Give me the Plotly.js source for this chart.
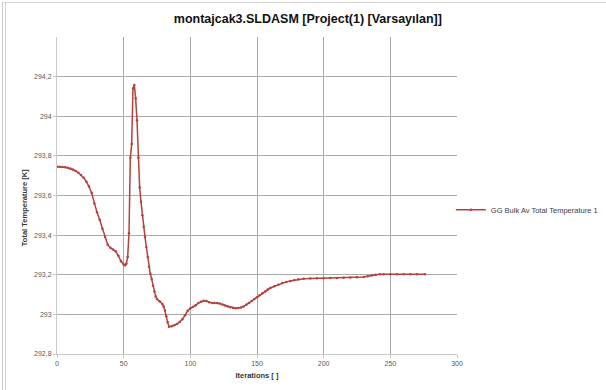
<!DOCTYPE html>
<html>
<head>
<meta charset="utf-8">
<script src="https://cdn.plot.ly/plotly-3.0.1.min.js"></script>
<style>
  html, body { margin: 0; padding: 0; background: #fff; overflow: hidden; }
  #chart { width: 606px; height: 390px; position: absolute; left: 0; top: 0; }
  #frame1 { position: absolute; left: 2px; top: 2px; width: 700px; height: 500px;
            border-left: 1px solid #c9c9c9; border-top: 1px solid #d0d0d0; pointer-events: none; }
  #frame2 { position: absolute; left: 5px; top: 3px; width: 1px; height: 500px;
            background: #d6d6d6; pointer-events: none; }
</style>
</head>
<body>
<div id="chart"></div>
<div id="frame1"></div>
<div id="frame2"></div>
<script>
const chartTitle = "montajcak3.SLDASM [Project(1) [Varsayılan]]";
const seriesName = "GG Bulk Av Total Temperature 1";
const xTitle = "Iterations [ ]";
const yTitle = "Total Temperature [K]";

const iterations = [
  0, 2, 4, 6, 8, 10, 12, 14, 16, 18, 20, 22, 24, 26, 28, 30, 32, 34, 36, 38,
  40, 42, 44, 46, 48, 50, 51, 52, 53, 54, 55, 56, 57, 58, 59, 60, 61, 62, 63, 64,
  65, 66, 67, 68, 69, 70, 71, 72, 73, 74, 75, 77, 79, 80, 81, 82, 83, 84, 86, 88,
  90, 92, 94, 96, 98, 100, 102, 104, 106, 108, 110, 112, 114, 116, 118, 120, 122, 124, 126, 128,
  130, 132, 134, 136, 138, 140, 142, 144, 146, 148, 150, 152, 154, 156, 158, 160, 163, 166, 169, 172,
  175, 178, 181, 185, 190, 195, 200, 205, 210, 215, 220, 225, 230, 233, 236, 239, 242, 245, 250, 255,
  260, 265, 270, 276
];
const temperature = [
  293.745, 293.745, 293.744, 293.742, 293.740, 293.736, 293.731, 293.724, 293.715, 293.703,
  293.690, 293.670, 293.645, 293.612, 293.560, 293.515, 293.478, 293.432, 293.390, 293.352,
  293.336, 293.328, 293.318, 293.296, 293.268, 293.252, 293.248, 293.255, 293.290, 293.410,
  293.790, 293.860, 294.140, 294.158, 294.090, 293.980, 293.790, 293.640, 293.568, 293.500,
  293.442, 293.390, 293.340, 293.290, 293.240, 293.205, 293.178, 293.145, 293.115, 293.090,
  293.078, 293.066, 293.052, 293.040, 293.020, 292.990, 292.960, 292.938, 292.940, 292.945,
  292.952, 292.962, 292.975, 292.995, 293.018, 293.030, 293.037, 293.046, 293.057, 293.064,
  293.069, 293.068, 293.061, 293.058, 293.057, 293.057, 293.055, 293.050, 293.045, 293.040,
  293.036, 293.033, 293.031, 293.032, 293.035, 293.040, 293.048, 293.057, 293.067, 293.077,
  293.087, 293.097, 293.107, 293.116, 293.125, 293.133, 293.142, 293.150, 293.158, 293.164,
  293.169, 293.173, 293.177, 293.180, 293.181, 293.182, 293.182, 293.183, 293.184, 293.185,
  293.186, 293.187, 293.189, 293.193, 293.197, 293.200, 293.202, 293.203, 293.203, 293.203,
  293.203, 293.203, 293.203, 293.203
];

const xTickVals = [0, 50, 100, 150, 200, 250, 300];
const yTickVals = [292.8, 293, 293.2, 293.4, 293.6, 293.8, 294, 294.2];

const lineColor = "#b5413f";
const font = "Liberation Sans, Arial, sans-serif";

const trace = {
  x: iterations,
  y: temperature,
  type: "scatter",
  mode: "lines+markers",
  name: seriesName,
  line: { color: lineColor, width: 1.5 },
  marker: { color: lineColor, size: 2.5 }
};

const layout = {
  width: 606,
  height: 390,
  separators: ", ",
  paper_bgcolor: "#ffffff",
  plot_bgcolor: "#ffffff",
  margin: { l: 57, r: 149, t: 37, b: 36, autoexpand: false },
  showlegend: true,
  font: { family: font, color: "#404040", size: 7 },
  title: {
    text: chartTitle,
    font: { family: font, size: 12.5, color: "#111111", weight: "bold" },
    x: 0.508, xanchor: "center", xref: "container",
    y: 0.951, yanchor: "middle", yref: "container"
  },
  xaxis: {
    range: [0, 300],
    tickvals: xTickVals,
    automargin: false,
    showgrid: true,
    gridcolor: "#a9a9a9",
    gridwidth: 1,
    zeroline: false,
    showline: true,
    linecolor: "#c8c8c8",
    linewidth: 1,
    ticks: "outside",
    ticklen: 3,
    tickcolor: "#c8c8c8",
    tickfont: { family: font, size: 7, color: "#595959" },
    title: { text: xTitle, font: { family: font, size: 7.5, color: "#333333", weight: "bold" }, standoff: 6 }
  },
  yaxis: {
    range: [292.8, 294.4],
    tickvals: yTickVals,
    automargin: false,
    showgrid: true,
    gridcolor: "#a9a9a9",
    gridwidth: 1,
    zeroline: false,
    showline: true,
    linecolor: "#c8c8c8",
    linewidth: 1,
    ticks: "outside",
    ticklen: 3,
    tickcolor: "#c8c8c8",
    tickfont: { family: font, size: 7, color: "#595959" }
  },
  annotations: [{
    text: yTitle,
    xref: "paper", yref: "paper",
    x: -0.0825, y: 0.46,
    xanchor: "center", yanchor: "middle",
    textangle: -90,
    showarrow: false,
    font: { family: font, size: 7.5, color: "#333333", weight: "bold" }
  }],
  legend: {
    xref: "container", yref: "container",
    x: 0.744, xanchor: "left",
    y: 0.462, yanchor: "middle",
    font: { family: font, size: 7.5, color: "#404040" },
    bgcolor: "rgba(0,0,0,0)",
    itemwidth: 30
  }
};

Plotly.newPlot("chart", [trace], layout, { displayModeBar: false, staticPlot: true });
</script>
</body>
</html>
